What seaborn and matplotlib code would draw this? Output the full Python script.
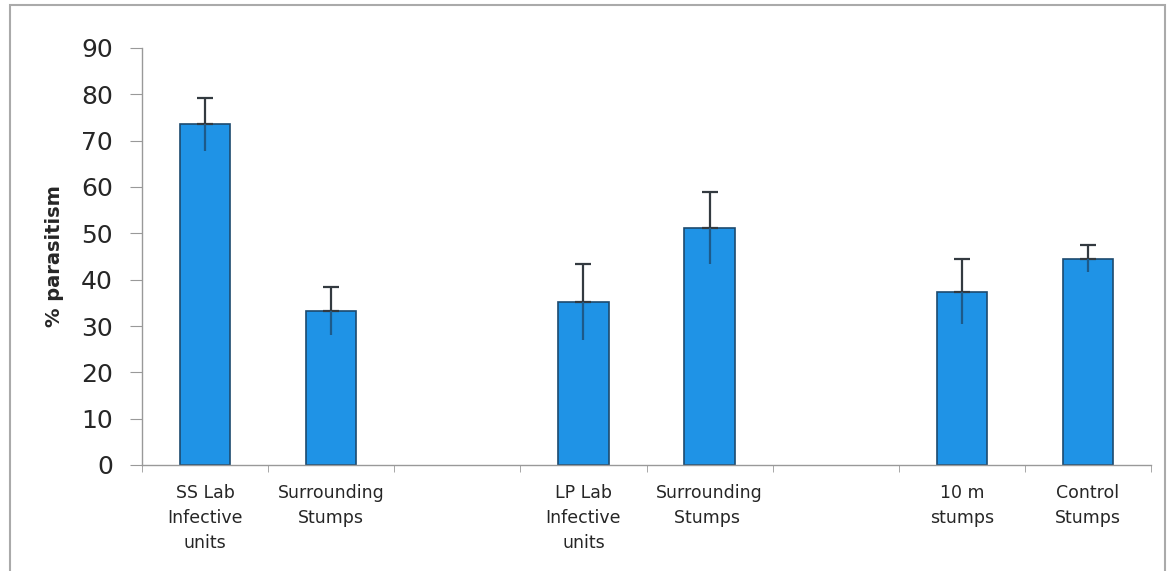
import matplotlib
matplotlib.use("Agg")
import matplotlib.pyplot as plt
import matplotlib.patches as mpatches
import seaborn as sns
import pandas as pd
import numpy as np

# ─── Data ─────────────────────────────────────────────────────────────────────
categories = ["SS Lab\nInfective\nunits", "Surrounding\nStumps", "",
              "LP Lab\nInfective\nunits", "Surrounding\nStumps ", " ",
              "10 m\nstumps", "Control\nStumps"]
bar_labels = ["SS Lab\nInfective\nunits", "Surrounding\nStumps",
              "LP Lab\nInfective\nunits", "Surrounding\nStumps ",
              "10 m\nstumps", "Control\nStumps"]
parasitism = [73.5, 33.3, 35.2, 51.2, 37.4, 44.5]
errors = [5.8, 5.2, 8.2, 7.8, 7.0, 2.9]

sns.set_style("white")
plt.rcParams["font.family"] = ["DejaVu Sans"]

df = pd.DataFrame({"group": bar_labels, "value": parasitism})

fig = plt.figure(figsize=(11.72, 5.71), dpi=100)
ax = fig.add_axes([142 / 1172, 1 - 465 / 571, 1009 / 1172, (465 - 48) / 571])

sns.barplot(data=df, x="group", y="value", order=categories, ax=ax,
            color="#1f93e6", saturation=1, width=0.4, errorbar=None,
            edgecolor="#1d4a6e", linewidth=1.2, zorder=2)

pos = [categories.index(g) for g in bar_labels]
zeros = [0] * len(errors)
# upper whisker with cap, lower whisker inside the bar without cap
ax.errorbar(pos, parasitism, yerr=[zeros, errors], fmt="none",
            ecolor="#333a40", elinewidth=1.6, capsize=6, capthick=1.6, zorder=3)
ax.errorbar(pos, parasitism, yerr=[errors, zeros], fmt="none",
            ecolor="#1d5a8a", elinewidth=1.6, capsize=0, zorder=3)

ax.set_ylim(0, 90)
ax.set_xlim(-0.5, len(categories) - 0.5)
ax.set_yticks(range(0, 91, 10))
ax.tick_params(axis="y", labelsize=18, length=9, width=0.8, color="#999999",
               direction="out", left=True, pad=12)
ax.tick_params(axis="x", labelsize=12.5, length=0, pad=14)
ax.set_xticks(np.arange(-0.5, len(categories) + 0.5, 1), minor=True)
ax.tick_params(axis="x", which="minor", length=5, color="#999999", bottom=True,
               direction="out")
ax.set_xticklabels(categories, linespacing=1.5)

ax.set_xlabel("")
ax.set_ylabel("% parasitism", fontsize=14, fontweight="bold", labelpad=12)

sns.despine(ax=ax)
for side in ["left", "bottom"]:
    ax.spines[side].set_color("#999999")
    ax.spines[side].set_linewidth(1.0)

# outer frame
frame = mpatches.Rectangle((10 / 1172, -0.02), 1155 / 1172, 1 - 5 / 571 + 0.02,
                           transform=fig.transFigure, fill=False,
                           edgecolor="#aaaaaa", linewidth=1.5)
fig.patches.append(frame)

fig.savefig("out.png", dpi=100, facecolor="white")
